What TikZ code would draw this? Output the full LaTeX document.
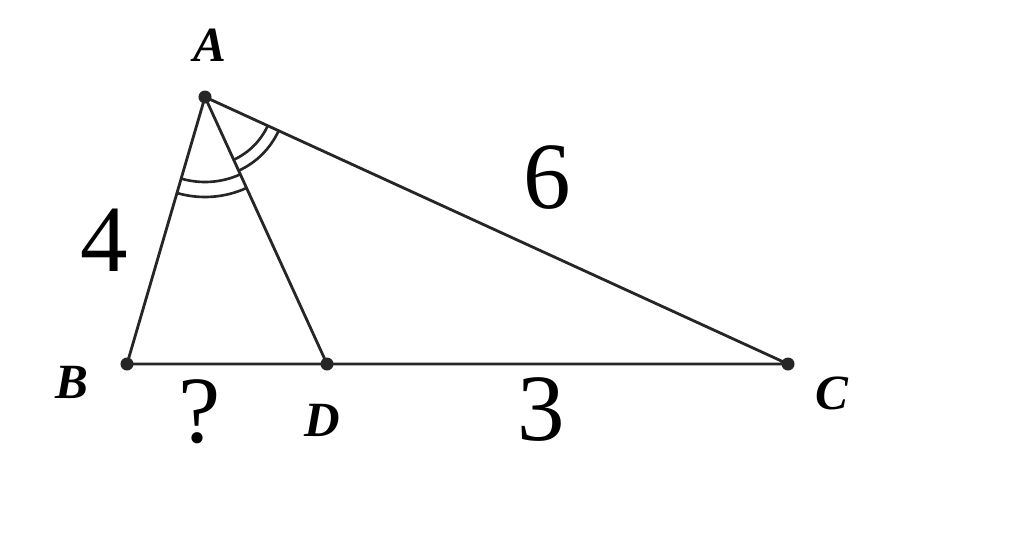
\documentclass[tikz,border=0pt]{standalone}
\usepackage{fontspec}
\setmainfont{Liberation Serif}
\begin{document}
\begin{tikzpicture}[x=0.01cm,y=-0.01cm,
  seg/.style={line width=0.8pt,black!85},
  arcline/.style={line width=0.75pt,black!85},
  pt/.style={circle,fill=black!85,inner sep=0pt,minimum size=0.13cm},
  vlabel/.style={font=\fontsize{14}{14}\selectfont\bfseries\itshape},
  num/.style={font=\fontsize{27}{27}\selectfont}]
\useasboundingbox (0,0) rectangle (1024,536);
\coordinate (A) at (205,97);
\coordinate (B) at (127,364);
\coordinate (D) at (327,364);
\coordinate (C) at (788,364);
\draw[seg] (A) -- (B) -- (C) -- cycle;
\draw[seg] (A) -- (D);
% angle arcs (y axis points down, so angles are mirrored)
\draw[arcline] ([shift={(106.3:85)}]A) arc[start angle=106.3,end angle=65.4,radius=85];
\draw[arcline] ([shift={(106.3:100)}]A) arc[start angle=106.3,end angle=65.4,radius=100];
\draw[arcline] ([shift={(65.4:69)}]A) arc[start angle=65.4,end angle=24.6,radius=69];
\draw[arcline] ([shift={(65.4:81)}]A) arc[start angle=65.4,end angle=24.6,radius=81];
\node[pt] (a) at (A) {};
\node[pt] (b) at (B) {};
\node[pt] (d) at (D) {};
\node[pt] (c) at (C) {};
\node[vlabel] (la) at (210,45) {A};
\node[vlabel] (lb) at (72,382) {B};
\node[vlabel] (ld) at (322,420) {D};
\node[vlabel] (lc) at (832,393) {C};
\node[num] (n4) at (104,240) {4};
\node[num] (n6) at (547,178) {6};
\node[num] (n3) at (541,410) {3};
\node[num] (nq) at (200,412) {?};
\end{tikzpicture}
\end{document}
